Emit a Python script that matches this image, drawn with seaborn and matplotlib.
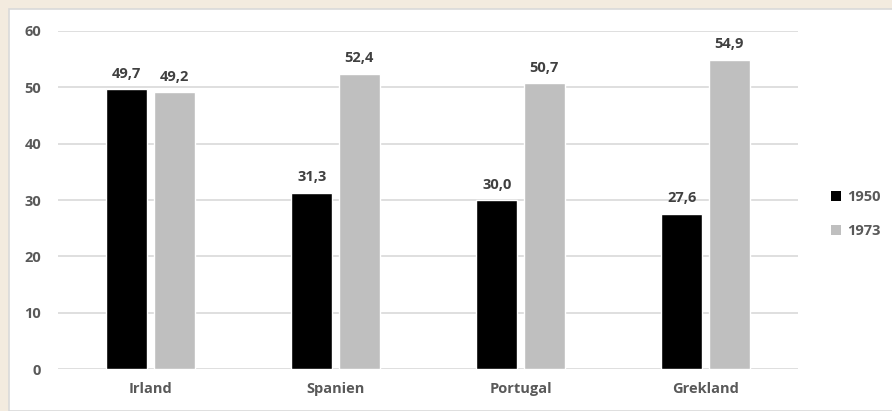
import pandas as pd
import numpy as np
import seaborn as sns
import matplotlib.pyplot as plt
from matplotlib.patches import Rectangle, Patch

# data
countries = ["Irland", "Spanien", "Portugal", "Grekland"]
years = ["1950", "1973"]
values_1950 = [49.7, 31.3, 30.0, 27.6]
values_1973 = [49.2, 52.4, 50.7, 54.9]

df = pd.DataFrame({
    "Land": countries * 2,
    "Year": [years[0]] * 4 + [years[1]] * 4,
    "Value": values_1950 + values_1973,
})

sns.set_style("white")
plt.rcParams["font.family"] = ["Open Sans", "DejaVu Sans"]

text_col = "#595959"
colors = {"1950": "#000000", "1973": "#BFBFBF"}

fig = plt.figure(figsize=(8.92, 4.11), dpi=100)
fig.patch.set_facecolor("#F3EBDF")
# white chart panel with a thin grey border
fig.add_artist(Rectangle((9 / 892, 0), 1, 1 - 9 / 411, transform=fig.transFigure,
                         facecolor="white", edgecolor="#D9D9D9", linewidth=1.2, zorder=0))

ax = fig.add_axes([58 / 892, 42 / 411, 740 / 892, 338 / 411])
ax.set_facecolor("none")

sns.barplot(data=df, x="Land", y="Value", hue="Year", palette=colors,
            width=0.51, gap=0.13, ax=ax, legend=False, saturation=1)

ax.set_ylim(0, 60)
ax.set_yticks(range(0, 61, 10))
ax.yaxis.grid(True, color="#D9D9D9", linewidth=1.2)
ax.set_axisbelow(True)
for s in ax.spines.values():
    s.set_visible(False)
ax.tick_params(axis="both", length=0, colors=text_col)
ax.tick_params(axis="y", pad=12, labelsize=10.5)
ax.tick_params(axis="x", pad=9, labelsize=10.5)
for lab in ax.get_xticklabels() + ax.get_yticklabels():
    lab.set_fontweight("bold")
ax.set_xlabel("")
ax.set_ylabel("")

for cont in ax.containers:
    labels = [f"{b.get_height():.1f}".replace(".", ",") for b in cont]
    ax.bar_label(cont, labels=labels, padding=6, fontsize=10.5,
                 fontweight="bold", color="#404040")

handles = [Patch(facecolor=colors[y], edgecolor="none") for y in years]
fig.legend(handles, years, loc="center left", bbox_to_anchor=(818 / 892, 1 - 214 / 411),
           frameon=False, handlelength=0.7, handleheight=0.7,
           handletextpad=0.4, labelspacing=1.35, prop={"weight": "bold", "size": 10.5})
for t in fig.legends[0].get_texts():
    t.set_color(text_col)

fig.savefig("out.png", dpi=100, facecolor=fig.get_facecolor())
